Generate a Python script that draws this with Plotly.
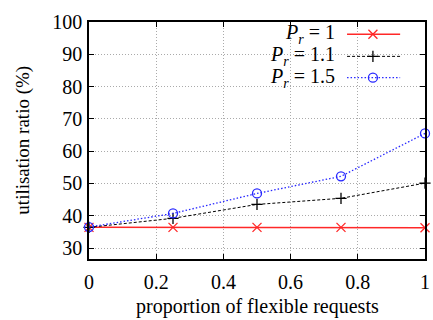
import plotly.graph_objects as go

x_vals = [0, 0.25, 0.5, 0.75, 1.0]
pr1 = [36.4, 36.4, 36.4, 36.4, 36.3]
pr11 = [36.4, 39.2, 43.5, 45.4, 50.1]
pr15 = [36.5, 40.7, 46.9, 52.2, 65.5]
series_names = ["<i>P</i><sub><i>r</i></sub> = 1", "<i>P</i><sub><i>r</i></sub> = 1.1", "<i>P</i><sub><i>r</i></sub> = 1.5"]
x_ticks = [0, 0.2, 0.4, 0.6, 0.8, 1]
x_tick_labels = ["0", "0.2", "0.4", "0.6", "0.8", "1"]
y_ticks = [30, 40, 50, 60, 70, 80, 90, 100]

FONT = "Liberation Serif, Times New Roman, serif"
styles = [
    dict(color="rgb(255,40,40)", dash="solid", width=1.5, symbol="x-thin-open", msize=9),
    dict(color="black", dash="3px,2px", width=1, symbol="cross-thin-open", msize=8),
    dict(color="rgb(40,40,255)", dash="1.5px,2px", width=1.3, symbol="circle-open", msize=9),
]

fig = go.Figure()
for ys, st in zip([pr1, pr11, pr15], styles):
    fig.add_trace(go.Scatter(
        x=x_vals, y=ys, mode="lines+markers",
        line=dict(color=st["color"], dash=st["dash"], width=st["width"]),
        marker=dict(symbol=st["symbol"], size=st["msize"], color=st["color"],
                    line=dict(color=st["color"], width=1.3)),
        showlegend=False, cliponaxis=False))

# legend (manual, gnuplot style: text right, sample on the right)
leg_y = [0.948, 0.855, 0.765]
text_x = 0.738
samp_x0, samp_x1, mark_x = 0.768, 0.926, 0.845
fig.add_shape(type="rect", xref="paper", yref="paper", x0=0.324, x1=0.961, y0=0.73, y1=1.0,
              fillcolor="white", line=dict(width=0), layer="between")
for name, yy, st in zip(series_names, leg_y, styles):
    fig.add_annotation(xref="paper", yref="paper", x=text_x, y=yy, text=name, showarrow=False,
                       xanchor="right", yanchor="middle", height=20, valign="middle",
                       font=dict(family=FONT, size=20, color="black"))
    fig.add_shape(type="line", xref="paper", yref="paper", x0=samp_x0, x1=samp_x1, y0=yy, y1=yy,
                  line=dict(color=st["color"], dash=st["dash"], width=st["width"]), layer="above")
    fig.add_trace(go.Scatter(x=[mark_x], y=[yy], xaxis="x2", yaxis="y2", mode="markers",
                             marker=dict(symbol=st["symbol"], size=st["msize"], color=st["color"],
                                         line=dict(color=st["color"], width=1.3)),
                             showlegend=False, hoverinfo="skip"))

axis_common = dict(showline=True, linecolor="black", linewidth=1.5, mirror="allticks",
                   ticks="inside", ticklen=5, tickcolor="black", tickwidth=1,
                   showgrid=True, gridcolor="rgb(170,170,170)", griddash="1px,2px", gridwidth=1,
                   zeroline=False, automargin=False,
                   tickfont=dict(family=FONT, size=20, color="black"))

fig.update_layout(
    width=433, height=320,
    margin=dict(l=89, r=8, t=22, b=61),
    font=dict(family=FONT, size=20, color="black"),
    paper_bgcolor="white", plot_bgcolor="white",
    xaxis=dict(range=[0, 1], tickvals=x_ticks, ticktext=x_tick_labels, ticklabelstandoff=4, **axis_common),
    yaxis=dict(range=[26.6, 100], tickvals=y_ticks, ticklabelstandoff=1, **axis_common),
    xaxis2=dict(overlaying="x", range=[0, 1], visible=False),
    yaxis2=dict(overlaying="y", range=[0, 1], visible=False),
)
fig.add_annotation(xref="paper", yref="paper", x=0.5, y=-0.2, text="proportion of flexible requests",
                   showarrow=False, xanchor="center", yanchor="middle",
                   font=dict(family=FONT, size=20, color="black"))
fig.add_annotation(xref="paper", yref="paper", x=-0.199, y=0.5, text="utilisation ratio (%)",
                   showarrow=False, xanchor="center", yanchor="middle", textangle=-90,
                   font=dict(family=FONT, size=19, color="black"))

fig.write_html("out.html", config={"displayModeBar": False},
               post_script="document.body.style.margin='0';document.body.style.overflow='hidden';")
